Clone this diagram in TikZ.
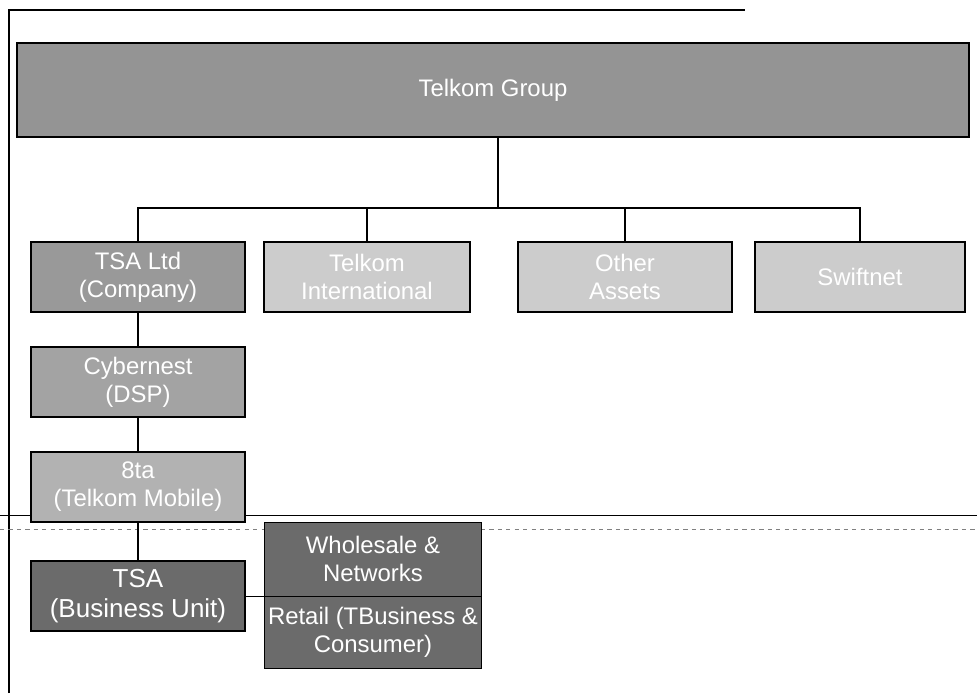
\documentclass[tikz,border=0pt]{standalone}
\usepackage{fontspec}
\setmainfont{Liberation Sans}
\tikzset{
  unit/.style={draw=black, line width=1.6pt, text=white, align=center, inner sep=1pt,
    minimum width=5.35cm, minimum height=1.75cm, font=\fontsize{17}{20}\selectfont},
  link/.style={line width=1.4pt},
}
\begin{document}
\begin{tikzpicture}[x=0.025cm, y=-0.025cm]
    \useasboundingbox (0,0) rectangle (977,693);
    % page frame and scan lines
    \draw[line width=0.8pt] (9,693) -- (9,10) -- (745,10);
    \draw[line width=0.6pt] (0,515) -- (977,515);
    \draw[gray, dashed, line width=0.5pt] (0,529) -- (977,529);
    % group level
    \node[unit, fill=black!42, minimum width=23.8cm, minimum height=2.35cm] (grp) at (493,90) {Telkom Group};
    \coordinate (bus) at (498,208);
    \node[unit, fill=black!40] (ltd) at (138,277) {TSA Ltd\\(Company)};
    \node[unit, fill=black!20, minimum width=5.15cm] (intl) at (367,277) {Telkom\\International};
    \node[unit, fill=black!20] (other) at (625,277) {Other\\Assets};
    \node[unit, fill=black!20, minimum width=5.25cm] (swift) at (860,277) {Swiftnet};
    \draw[link] (grp.south -| bus) -- (bus);
    \draw[link] (ltd.north) |- (bus) -| (swift.north);
    \foreach \n in {intl,other} {\draw[link] (\n.north) -- (\n.north |- bus);}
    % company chain
    \node[unit, fill=black!36] (cyber) at (138,382) {Cybernest\\(DSP)};
    \node[unit, fill=black!30] (mobile) at (138,487) {8ta\\(Telkom Mobile)};
    \node[unit, fill=black!58, font=\fontsize{18.5}{21}\selectfont] (tsa) at (138,596) {TSA\\(Business Unit)};
    \draw[link] (ltd) -- (cyber);
    \draw[link] (cyber) -- (mobile);
    \draw[link] (mobile) -- (tsa);
    % business unit split
    \node[unit, fill=black!58, line width=0.6pt, minimum width=5.43cm, minimum height=1.85cm] (whole) at (373,559) {Wholesale \&\\Networks};
    \node[unit, fill=black!58, line width=0.6pt, minimum width=5.43cm, minimum height=1.8cm] (retail) at (373,632) {Retail (TBusiness \&\\Consumer)};
    \draw[line width=0.6pt] (tsa.east) -- (tsa.east -| whole.west);
\end{tikzpicture}
\end{document}
